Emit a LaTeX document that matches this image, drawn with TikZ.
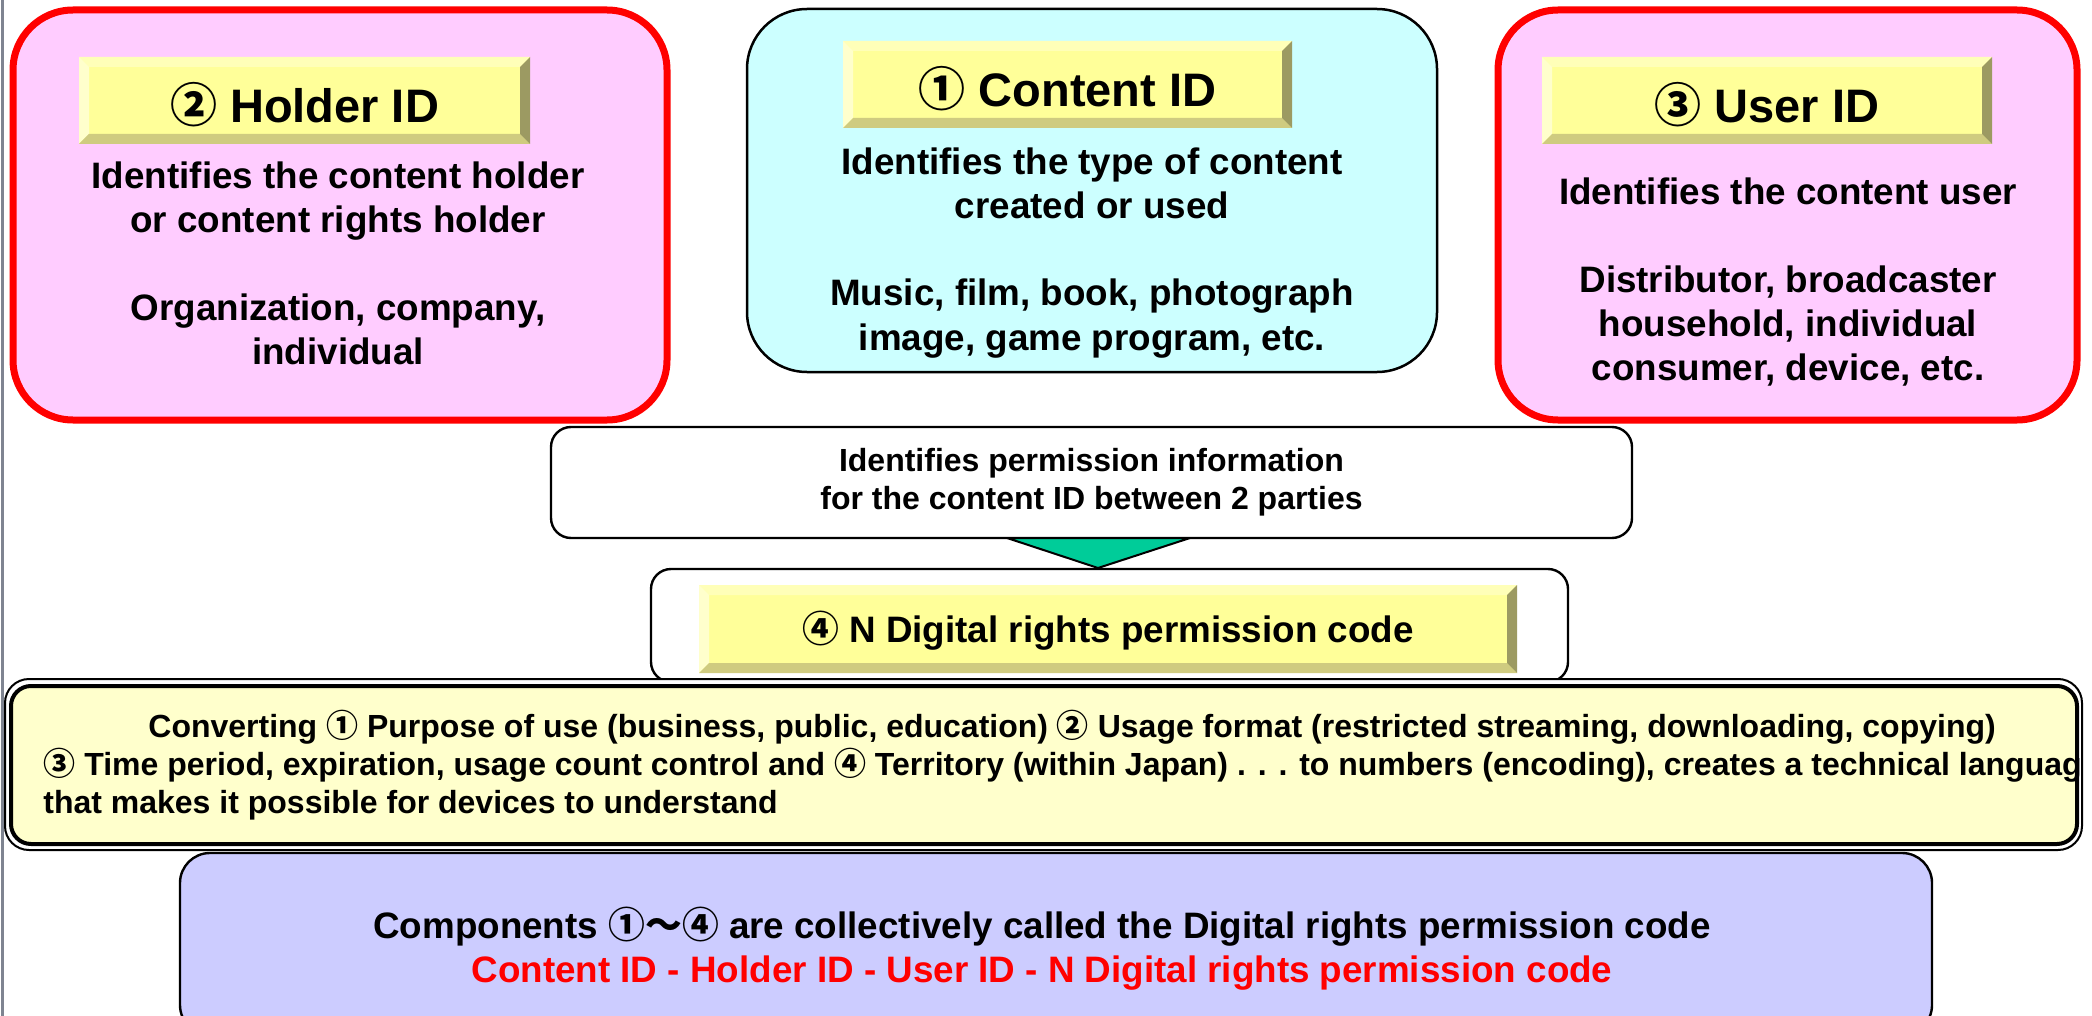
\documentclass[tikz,border=0pt]{standalone}
\usepackage{fontspec}
\setmainfont{Liberation Sans}
\newfontfamily\cjk{Noto Sans CJK JP}
\usetikzlibrary{calc}
\pgfdeclarelayer{bg}
\pgfsetlayers{bg,main}

\definecolor{pinkfill}{HTML}{FFCCFF}
\definecolor{cyanfill}{HTML}{CCFFFF}
\definecolor{barface}{HTML}{FFFF99}
\definecolor{bartop}{HTML}{FFFFB8}
\definecolor{barleft}{HTML}{FFFFCC}
\definecolor{barlow}{HTML}{CFCB80}
\definecolor{barside}{HTML}{9C9A62}
\definecolor{arrowgreen}{HTML}{00CC99}
\definecolor{notefill}{HTML}{FFFFCC}
\definecolor{sumfill}{HTML}{CCCCFF}
\definecolor{edgegray}{HTML}{7F8491}

% circled numbers and full-width tilde come from the CJK font
\newcommand\cn[1]{{\cjk #1}}
\newcommand\fTitle{\fontsize{23.5}{28}\selectfont\bfseries}
\newcommand\fBody{\fontsize{18.4}{22}\selectfont\bfseries}
\newcommand\fSmall{\fontsize{16}{19}\selectfont\bfseries}

\tikzset{
  idbox/.style={draw=red, line width=3.5pt, fill=pinkfill, rounded corners=30pt, inner sep=0pt},
  typebox/.style={draw=black, line width=1.25pt, fill=cyanfill, rounded corners=30pt, inner sep=0pt},
  whitebox/.style={draw=black, line width=1.2pt, fill=white, rounded corners=10pt, inner sep=0pt},
  notebox/.style={draw=black, line width=2pt, fill=notefill, rounded corners=10pt, inner sep=0pt},
  sumbox/.style={draw=black, line width=1.2pt, fill=sumfill, rounded corners=15pt, inner sep=0pt},
  bevelbar/.style={fill=barface, inner sep=0pt, text depth=0pt,
    path picture={
      \fill[bartop] (path picture bounding box.north west) -- (path picture bounding box.north east)
        -- ([shift={(-5pt,-5pt)}]path picture bounding box.north east)
        -- ([shift={(5pt,-5pt)}]path picture bounding box.north west) -- cycle;
      \fill[barleft] (path picture bounding box.north west) -- ([shift={(5pt,-5pt)}]path picture bounding box.north west)
        -- ([shift={(5pt,5pt)}]path picture bounding box.south west)
        -- (path picture bounding box.south west) -- cycle;
      \fill[barlow] (path picture bounding box.south west) -- (path picture bounding box.south east)
        -- ([shift={(-5pt,5pt)}]path picture bounding box.south east)
        -- ([shift={(5pt,5pt)}]path picture bounding box.south west) -- cycle;
      \fill[barside] (path picture bounding box.north east) -- (path picture bounding box.south east)
        -- ([shift={(-5pt,5pt)}]path picture bounding box.south east)
        -- ([shift={(-5pt,-5pt)}]path picture bounding box.north east) -- cycle;
    }},
  % multi-line texts are placed by the baseline of their last line
  bodytext/.style={anchor=base, align=center, inner sep=0pt, font=\fBody},
  conn/.style={draw=black, line width=3pt},
}

\begin{document}
\begin{tikzpicture}[x=0.5pt, y=-0.5pt]
\clip (0,0) rectangle (2092,1016);
\fill[white] (0,0) rectangle (2092,1016);

% the three identifier boxes
\node[idbox, minimum width=327pt, minimum height=205pt] (holder) at (340,215) {};
\node[typebox, minimum width=345pt, minimum height=181.5pt] (content) at (1092,190.5) {};
\node[idbox, minimum width=289.5pt, minimum height=205pt] (user) at (1787.5,215) {};

\node[bevelbar, minimum width=225.5pt, minimum height=43.5pt, text height=22.5pt, font=\fTitle]
  (hbar) at (304.5,100.5) {\cn{②} Holder ID};
\node[bevelbar, minimum width=224.5pt, minimum height=43.5pt, text height=22.5pt, font=\fTitle]
  (cbar) at (1067.5,84.5) {\cn{①} Content ID};
\node[bevelbar, minimum width=225pt, minimum height=43.5pt, text height=22.5pt, font=\fTitle]
  (ubar) at (1767,100.5) {\cn{③} User ID};

\node[bodytext] (hbody) at (338,364)
  {Identifies the content holder\\or content rights holder\\[22pt]Organization, company,\\individual};
\node[bodytext] (cbody) at (1092,350)
  {Identifies the type of content\\created or used\\[22pt]Music, film, book, photograph\\image, game program, etc.};
\node[bodytext] (ubody) at (1788,380)
  {Identifies the content user\\[22pt]Distributor, broadcaster\\household, individual\\consumer, device, etc.};

% permission box and the code it yields
\node[whitebox, minimum width=540.5pt, minimum height=55.5pt, align=center, font=\fSmall]
  (perm) at (1091.5,482.5) {Identifies permission information\\for the content ID between 2 parties};

\coordinate (triL) at (1007,538);
\coordinate (triR) at (1190,538);
\coordinate (triT) at (1098,568);
\draw[fill=arrowgreen, line width=1pt, line join=miter] (triL) -- (triR) -- (triT) -- cycle;

\node[whitebox, minimum width=458.5pt, minimum height=56.5pt] (digi) at (1109.5,625.5) {};
\node[bevelbar, minimum width=409pt, minimum height=44pt, text height=13pt, font=\fBody]
  (dbar) at (1108,629) {\cn{④} N Digital rights permission code};

% explanation panel with a double border
\draw[line width=1pt, fill=white, rounded corners=12pt] (5,679) rectangle (2082,850);
\node[notebox, minimum width=1033pt, minimum height=79pt] (conv) at (1044,765) {};
\begin{scope}
  \clip (conv.north west) rectangle (conv.south east);
  \node[anchor=base west, align=left, inner sep=0pt, font=\fSmall] (convtext) at (43,813)
    {\hspace*{52.5pt}Converting \cn{①} Purpose of use (business, public, education) \cn{②} Usage format (restricted streaming, downloading, copying)\\
     \cn{③} Time period, expiration, usage count control and \cn{④} Territory (within Japan) . . . to numbers (encoding), creates a technical language\\
     that makes it possible for devices to understand};
\end{scope}

% summary panel
\node[sumbox, minimum width=876pt, minimum height=91pt] (sum) at (1056,944) {};
\node[bodytext] (sumtext) at (1042,982)
  {Components \cn{①～④} are collectively called the Digital rights permission code\\
   \textcolor{red}{Content ID - Holder ID - User ID - N Digital rights permission code}};

% page edge rule
\draw[edgegray, line width=1.5pt] (2.5,0) -- (2.5,1016);

% connectors
\coordinate (hc) at (707,0);
\coordinate (cu) at (1469,0);
\begin{pgfonlayer}{bg}
  \draw[conn] (holder.east) -- (holder.east -| hc) |- (content.west);
  \draw[conn] (content.east) -- (content.east -| cu) |- (user.west);
  \draw[conn] (content.south) -- (perm.north);
  \draw[conn] (holder.south) |- (perm.west);
  \draw[conn] (user.south) |- (perm.east);
\end{pgfonlayer}
\end{tikzpicture}
\end{document}
